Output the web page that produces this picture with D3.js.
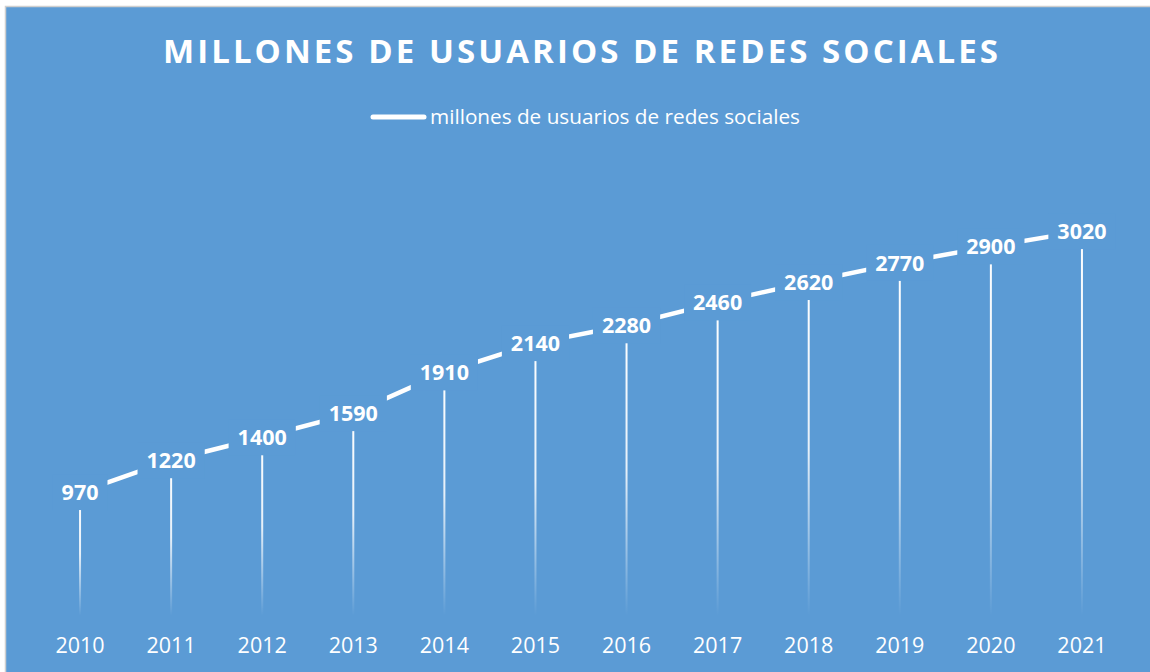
<!DOCTYPE html>
<html>
<head>
<meta charset="utf-8">
<script src="https://cdn.jsdelivr.net/npm/d3@7"></script>
<style>
  body { margin: 0; background: #ffffff; }
  svg { display: block; }
  text { font-family: "Open Sans", sans-serif; fill: #ffffff; }
</style>
</head>
<body>
<svg id="chart" width="1150" height="672"></svg>
<script>
// data
var years = ["2010", "2011", "2012", "2013", "2014", "2015", "2016", "2017", "2018", "2019", "2020", "2021"];
var usuarios = [970, 1220, 1400, 1590, 1910, 2140, 2280, 2460, 2620, 2770, 2900, 3020];
var titulo = "MILLONES DE USUARIOS DE REDES SOCIALES";
var serieNombre = "millones de usuarios de redes sociales";

var bg = "#5b9bd5";
var svg = d3.select("#chart");

// chart area with thin grey border
svg.append("rect")
    .attr("x", 5.5).attr("y", 6.5)
    .attr("width", 1160).attr("height", 680)
    .attr("fill", bg)
    .attr("stroke", "#cfcfcf")
    .attr("stroke-width", 1.5);

var data = years.map((y, i) => ({ year: y, value: usuarios[i] }));

var x = d3.scaleBand().domain(years).range([34.5, 1127.5]);
var y = d3.scaleLinear().domain([0, 3500]).range([615.5, 170]);
var cx = d => x(d.year) + x.bandwidth() / 2;

// gradient for drop lines (white at top, fading out at the axis)
var grad = svg.append("defs").append("linearGradient")
    .attr("id", "dropFade")
    .attr("x1", 0).attr("y1", 0).attr("x2", 0).attr("y2", 1);
grad.append("stop").attr("offset", "0%").attr("stop-color", "#fff").attr("stop-opacity", 1);
grad.append("stop").attr("offset", "50%").attr("stop-color", "#fff").attr("stop-opacity", 0.85);
grad.append("stop").attr("offset", "100%").attr("stop-color", "#fff").attr("stop-opacity", 0);

// title
svg.append("text")
    .attr("x", 580.5).attr("y", 63)
    .attr("text-anchor", "middle")
    .style("font-size", "33px")
    .style("font-weight", "bold")
    .attr("textLength", 835)
    .attr("lengthAdjust", "spacing")
    .text(titulo);

// legend
svg.append("line")
    .attr("x1", 373).attr("x2", 424)
    .attr("y1", 117).attr("y2", 117)
    .attr("stroke", "#fff").attr("stroke-width", 5)
    .attr("stroke-linecap", "round");
svg.append("text")
    .attr("x", 430).attr("y", 124)
    .style("font-size", "19.5px")
    .attr("textLength", 370)
    .attr("lengthAdjust", "spacingAndGlyphs")
    .text(serieNombre);

// drop lines
svg.append("g").selectAll("rect")
    .data(data)
    .enter()
    .append("rect")
    .attr("x", d => cx(d) - 1)
    .attr("y", d => y(d.value))
    .attr("width", 2)
    .attr("height", d => y(0) - y(d.value))
    .attr("fill", "url(#dropFade)");

// the series line
var line = d3.line().x(cx).y(d => y(d.value));
svg.append("path")
    .datum(data)
    .attr("d", line)
    .attr("fill", "none")
    .attr("stroke", "#fff")
    .attr("stroke-width", 4.5);

// data labels, boxed in the chart colour so they cut the line
var labels = svg.append("g").selectAll("g")
    .data(data)
    .enter()
    .append("g")
    .attr("transform", d => "translate(" + cx(d) + "," + y(d.value) + ")");

labels.append("rect").attr("fill", bg);
labels.append("text")
    .attr("text-anchor", "middle")
    .attr("y", 8)
    .style("font-size", "21.5px")
    .style("font-weight", "bold")
    .text(d => d.value);

labels.each(function() {
    var g = d3.select(this);
    var w = g.select("text").node().getComputedTextLength();
    g.select("rect")
        .attr("x", -w / 2 - 9).attr("y", -18)
        .attr("width", w + 18).attr("height", 36);
});

// category axis
var xAxis = svg.append("g")
    .attr("transform", "translate(0,615.5)")
    .call(d3.axisBottom(x).tickSize(0).tickPadding(22));
xAxis.select(".domain").remove();
xAxis.selectAll("text")
    .attr("fill", "#fff")
    .style("font-family", "'Open Sans', sans-serif")
    .style("font-size", "21.5px");
</script>
</body>
</html>
